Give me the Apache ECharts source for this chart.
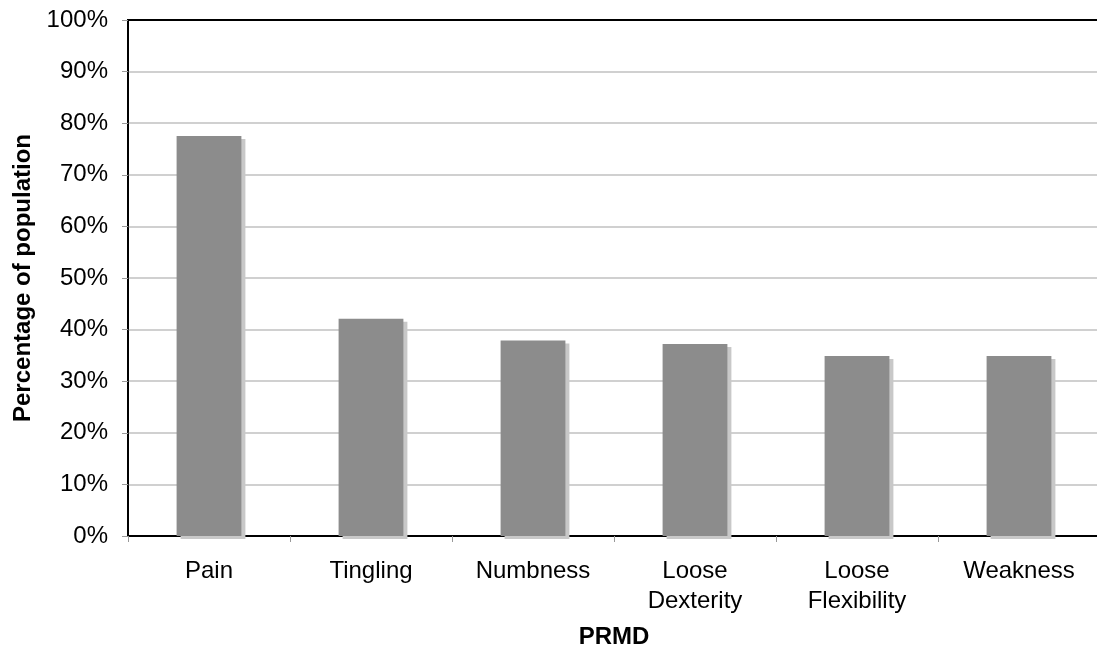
<!DOCTYPE html>
<html>
<head>
<meta charset="utf-8">
<script src="https://cdn.jsdelivr.net/npm/echarts@6/dist/echarts.min.js"></script>
<style>
  html, body { margin: 0; padding: 0; background: #fff; }
  #main { width: 1097px; height: 655px; }
</style>
</head>
<body>
<div id="main"></div>
<script>
// categories and values
const categories = ['Pain', 'Tingling', 'Numbness', 'Loose\nDexterity', 'Loose\nFlexibility', 'Weakness']
const prmdValues = [77.5, 42.1, 37.9, 37.2, 34.9, 34.9]

const chart = echarts.init(document.getElementById('main'))

const option = {
  animation: false,
  textStyle: { fontFamily: 'Liberation Sans, Arial, sans-serif' },
  grid: {
    left: 128,
    top: 20,
    width: 972,
    height: 516,
    outerBoundsMode: 'none',
    containLabel: false,
    show: true,
    borderColor: '#000',
    borderWidth: 2,
    backgroundColor: 'transparent'
  },
  xAxis: {
    type: 'category',
    data: categories,
    name: 'PRMD',
    nameLocation: 'middle',
    nameGap: 89,
    nameTextStyle: { fontSize: 24, fontWeight: 'bold', color: '#000' },
    axisLine: { lineStyle: { color: '#000', width: 2 } },
    axisTick: { show: true, length: 6, lineStyle: { color: '#999' } },
    axisLabel: { color: '#000', fontSize: 24, lineHeight: 30, margin: 20, interval: 0 }
  },
  yAxis: {
    type: 'value',
    min: 0,
    max: 100,
    interval: 10,
    name: 'Percentage of population',
    nameLocation: 'middle',
    nameGap: 92,
    nameTextStyle: { fontSize: 24, fontWeight: 'bold', color: '#000' },
    axisLine: { show: true, lineStyle: { color: '#000', width: 1.5 } },
    axisTick: { show: true, length: 6, lineStyle: { color: '#999' } },
    axisLabel: { color: '#000', fontSize: 24, margin: 20, formatter: '{value}%' },
    splitLine: { showMaxLine: false, lineStyle: { color: '#c0c0c0', width: 1.5 } }
  },
  series: [
    {
      type: 'bar',
      data: prmdValues,
      barWidth: '40%',
      itemStyle: {
        color: '#8c8c8c',
        shadowColor: '#c8c8c8',
        shadowOffsetX: 4,
        shadowOffsetY: 3,
        shadowBlur: 0
      }
    }
  ]
}

chart.setOption(option)
</script>
</body>
</html>
